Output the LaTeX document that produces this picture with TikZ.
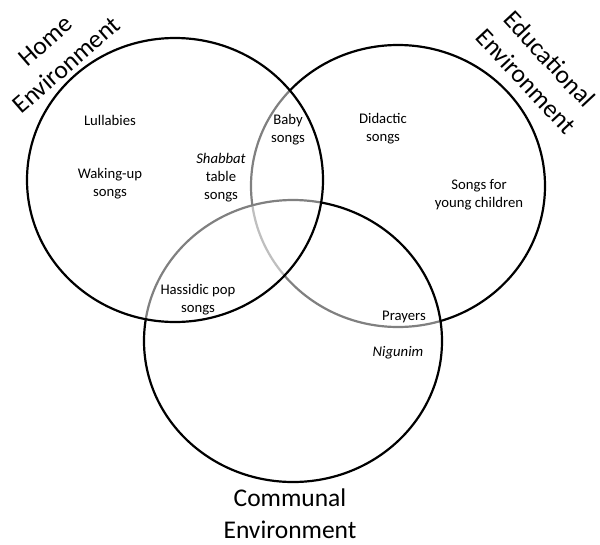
\documentclass[tikz,border=0pt]{standalone}
\usepackage{fontspec}
\setmainfont{Carlito}
\tikzset{
  env/.style={draw=black, line width=2.2pt, fill=white, fill opacity=0.5},
  item/.style={align=center, font=\fontsize{14.7}{18}\selectfont, inner sep=1pt},
  envlabel/.style={align=center, font=\fontsize{25.5}{32}\selectfont, inner sep=1pt}
}
\begin{document}
\begin{tikzpicture}[x=1pt,y=-1pt]
\useasboundingbox (0,0) rectangle (600,544);
% the three environments
\draw[env] (398,186) ellipse [x radius=147, y radius=141];
\draw[env] (293,341) ellipse [x radius=149, y radius=141];
\draw[env] (175,180) ellipse [x radius=148, y radius=142];
% labels of the circles
\node[envlabel, rotate=41] (home) at (56,53) {Home\\Environment};
\node[envlabel, rotate=-47] (edu) at (538,70) {Educational\\Environment};
\node[envlabel] (comm) at (290,514) {Communal\\Environment};
% song kinds
\node[item] (lull) at (110,120) {Lullabies};
\node[item] (wake) at (110,184) {Waking-up\\songs};
\node[item] (shab) at (221,178) {\textit{Shabbat}\\table\\songs};
\node[item] (baby) at (288,130) {Baby\\songs};
\node[item] (did) at (383,129) {Didactic\\songs};
\node[item] (young) at (479,195) {Songs for\\young children};
\node[item] (hass) at (198,300) {Hassidic pop\\songs};
\node[item] (pray) at (404,317) {Prayers};
\node[item] (nig) at (398,353) {\textit{Nigunim}};
\end{tikzpicture}
\end{document}
